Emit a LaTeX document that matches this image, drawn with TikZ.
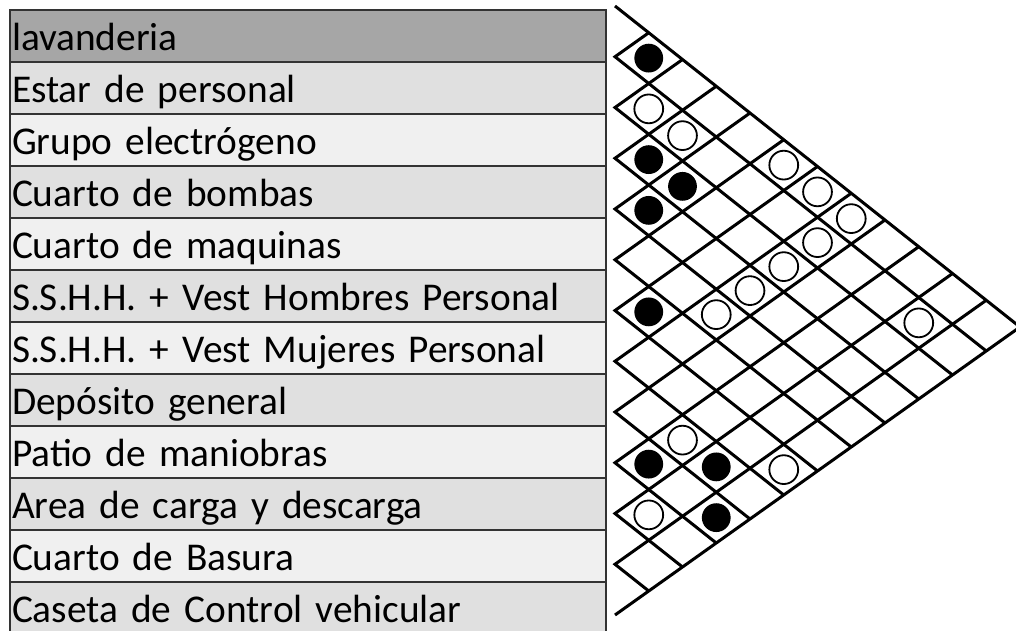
\documentclass[tikz,border=0pt]{standalone}
\usepackage{fontspec}
\setmainfont{Carlito}
\usetikzlibrary{positioning}

\begin{document}
\begin{tikzpicture}[font=\fontsize{28}{34}\selectfont,
  rowbox/.style={draw=black!80, line width=0.05cm, anchor=north west,
    text width=14.8cm, inner xsep=0.05cm, inner ysep=0pt, align=left,
    minimum height=1.3cm, text height=0.82cm, text depth=0.1cm},
  lattice/.style={line width=0.075cm, line join=miter},
  relfull/.style={circle, fill=black, minimum size=0.72cm, inner sep=0pt},
  relopen/.style={circle, draw, line width=0.045cm, fill=white,
    minimum size=0.72cm, inner sep=0pt}]
  \useasboundingbox (0, 0) rectangle (25.4, 15.75);
  \foreach \k/\c/\t in {1/35/lavanderia, 2/12/Estar de personal,
      3/6/Grupo electrógeno, 4/12/Cuarto de bombas, 5/6/Cuarto de maquinas,
      6/12/S.S.H.H. + Vest Hombres Personal,
      7/6/S.S.H.H. + Vest Mujeres Personal, 8/12/Depósito general,
      9/6/Patio de maniobras, 10/12/Area de carga y descarga,
      11/6/Cuarto de Basura, 12/12/Caseta de Control vehicular}
    {
      \node[rowbox, fill=black!\c] (r\k) at (0.225, 15.525-1.3*\k+1.3) {\t};
    }
  \coordinate (top) at (15.375, 15.6);
  \coordinate (apex) at (25.5, 7.575);
  \coordinate (bot) at (15.375, 0.375);
  \draw[lattice] (top) -- (apex) -- (bot);
  \foreach \k in {1,...,11}
    {
      \draw[lattice] ({15.375+\k*0.84375}, {15.6-\k*1.26875+\k*0.6})
        -- (15.375, 15.6-\k*1.26875)
        -- ++({(12-\k)*0.84375}, {-(12-\k)*0.66875});
    }
  \foreach \i/\j/\s in {1/2/relfull, 2/3/relopen, 2/4/relopen, 3/4/relfull,
      3/5/relfull, 4/5/relfull, 1/6/relopen, 1/7/relopen, 1/8/relopen,
      2/8/relopen, 3/8/relopen, 4/8/relopen, 5/8/relopen, 6/7/relfull,
      2/11/relopen, 8/10/relopen, 9/10/relfull, 8/11/relfull, 7/12/relopen,
      10/11/relopen, 9/12/relfull}
    {
      \node[\s] (c\i-\j) at ({15.375+(\j-\i)*0.84375},
        {15.6-(\i-0.5)*1.26875-(\j-\i)*0.66875}) {};
    }
\end{tikzpicture}
\end{document}
